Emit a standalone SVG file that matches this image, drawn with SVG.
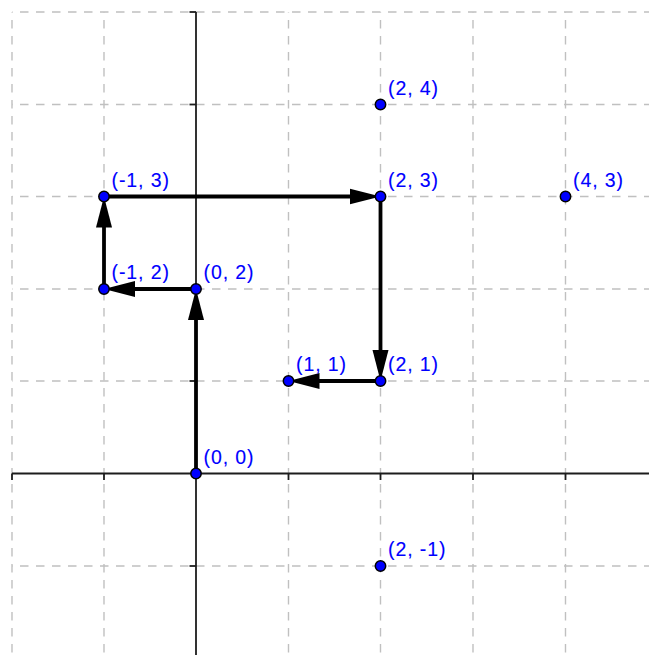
<svg xmlns="http://www.w3.org/2000/svg" width="649" height="655" viewBox="0 0 649 655">
<style>
.grid line{stroke:#c0c0c0;stroke-width:1.4;stroke-dasharray:8.5 7.5;fill:none}
.axis line{stroke:#1c1c1c;stroke-width:1.8}
.tick line{stroke:#1c1c1c;stroke-width:1.8}
.vec{stroke:#000;stroke-width:3.8;fill:none;marker-end:url(#ah)}
.pt circle{fill:#0000ff;stroke:#000;stroke-width:1.5}
.pt text{font-family:"Liberation Sans",Arial,sans-serif;font-size:19.5px;letter-spacing:0.9px;fill:#0000ff;stroke:#0000ff;stroke-width:0.12}
</style>
<defs>
<marker id="ah" markerUnits="userSpaceOnUse" markerWidth="32" markerHeight="17" viewBox="0 0 32 17" refX="11" refY="8.5" orient="auto">
<path d="M0,0.5 L31,8.5 L0,16.5 Z" fill="#000"/>
</marker>
</defs>
<rect width="649" height="655" fill="#fff"/>
<g id="grid" class="grid">
<line x1="12" y1="12" x2="12" y2="655" stroke-dashoffset="8"/>
<line x1="104" y1="12" x2="104" y2="655" stroke-dashoffset="8"/>
<line x1="288.5" y1="12" x2="288.5" y2="655" stroke-dashoffset="8"/>
<line x1="380.5" y1="12" x2="380.5" y2="655" stroke-dashoffset="8"/>
<line x1="473" y1="12" x2="473" y2="655" stroke-dashoffset="8"/>
<line x1="565.5" y1="12" x2="565.5" y2="655" stroke-dashoffset="8"/>
<line x1="12" y1="12" x2="649" y2="12" stroke-dashoffset="8"/>
<line x1="12" y1="104.5" x2="649" y2="104.5" stroke-dashoffset="8"/>
<line x1="12" y1="196.5" x2="649" y2="196.5" stroke-dashoffset="8"/>
<line x1="12" y1="289" x2="649" y2="289" stroke-dashoffset="8"/>
<line x1="12" y1="381" x2="649" y2="381" stroke-dashoffset="8"/>
<line x1="12" y1="566" x2="649" y2="566" stroke-dashoffset="8"/>
</g>
<g id="axes" class="axis">
<line x1="12" y1="473.5" x2="649" y2="473.5"/>
<line x1="196" y1="12" x2="196" y2="655"/>
</g>
<g id="ticks" class="tick">
<line x1="12" y1="473.5" x2="12" y2="480"/>
<line x1="104" y1="473.5" x2="104" y2="480"/>
<line x1="288.5" y1="473.5" x2="288.5" y2="480"/>
<line x1="380.5" y1="473.5" x2="380.5" y2="480"/>
<line x1="473" y1="473.5" x2="473" y2="480"/>
<line x1="565.5" y1="473.5" x2="565.5" y2="480"/>
<line x1="189.5" y1="12" x2="196" y2="12"/>
<line x1="189.5" y1="104.5" x2="196" y2="104.5"/>
<line x1="189.5" y1="196.5" x2="196" y2="196.5"/>
<line x1="189.5" y1="289" x2="196" y2="289"/>
<line x1="189.5" y1="381" x2="196" y2="381"/>
<line x1="189.5" y1="566" x2="196" y2="566"/>
</g>
<g id="connectors">
<path class="vec" d="M196,473.5 L196,309"/>
<path class="vec" d="M196,289 L124,289"/>
<path class="vec" d="M104,289 L104,216.5"/>
<path class="vec" d="M104,196.5 L360.5,196.5"/>
<path class="vec" d="M380.5,196.5 L380.5,361"/>
<path class="vec" d="M380.5,381 L308.5,381"/>
</g>
<g id="p00" class="pt"><circle cx="196" cy="473.5" r="5.2"/><text x="203.5" y="463.5">(0, 0)</text></g>
<g id="p02" class="pt"><circle cx="196" cy="289" r="5.2"/><text x="203.5" y="279">(0, 2)</text></g>
<g id="pm12" class="pt"><circle cx="104" cy="289" r="5.2"/><text x="111.5" y="279">(-1, 2)</text></g>
<g id="pm13" class="pt"><circle cx="104" cy="196.5" r="5.2"/><text x="111.5" y="186.5">(-1, 3)</text></g>
<g id="p23" class="pt"><circle cx="380.5" cy="196.5" r="5.2"/><text x="388" y="186.5">(2, 3)</text></g>
<g id="p24" class="pt"><circle cx="380.5" cy="104.5" r="5.2"/><text x="388" y="94.5">(2, 4)</text></g>
<g id="p43" class="pt"><circle cx="565.5" cy="196.5" r="5.2"/><text x="573" y="186.5">(4, 3)</text></g>
<g id="p21" class="pt"><circle cx="380.5" cy="381" r="5.2"/><text x="388" y="371">(2, 1)</text></g>
<g id="p11" class="pt"><circle cx="288.5" cy="381" r="5.2"/><text x="296" y="371">(1, 1)</text></g>
<g id="p2m1" class="pt"><circle cx="380.5" cy="566" r="5.2"/><text x="388" y="556">(2, -1)</text></g>
</svg>
